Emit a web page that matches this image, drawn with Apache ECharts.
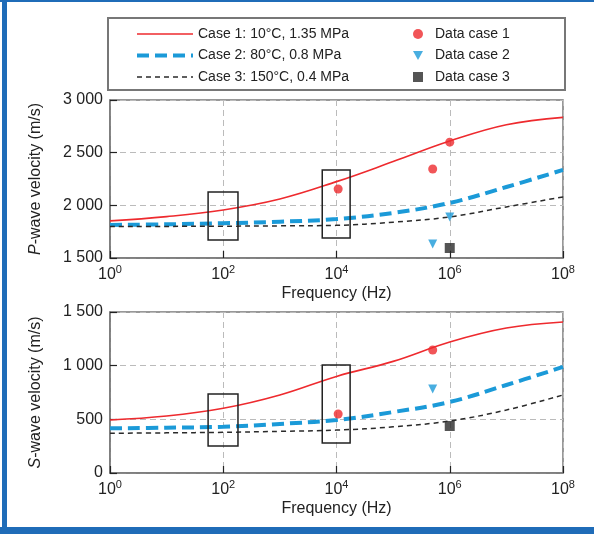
<!DOCTYPE html>
<html>
<head>
    <meta charset="utf-8" />
    <title>P- and S-wave velocity vs frequency</title>
    <style>
        html, body { margin: 0; padding: 0; background: #fff; }
        #chart { width: 594px; height: 534px; }
    </style>
</head>
<body>
    <div id="chart"></div>
    <script src="https://cdn.jsdelivr.net/npm/echarts@6/dist/echarts.min.js"></script>
    <script>
        // model curves, sampled once per decade (Hz)
        var freqHz = [1, 10, 100, 1e3, 1e4, 1e5, 1e6, 1e7, 1e8];
        var pCase1 = [1852, 1893, 1956, 2060, 2225, 2415, 2610, 2765, 2835];
        var pCase2 = [1814, 1820, 1830, 1845, 1870, 1928, 2023, 2174, 2336];
        var pCase3 = [1798, 1800, 1802, 1805, 1810, 1840, 1890, 1985, 2080];
        var sCase1 = [494, 531, 603, 727, 900, 1040, 1221, 1351, 1407];
        var sCase2 = [416, 422, 431, 457, 494, 568, 662, 820, 988];
        var sCase3 = [370, 374, 379, 388, 400, 430, 485, 587, 727];

        // measured data
        var pData1Freq = [1.07e4, 5e5, 1e6], pData1 = [2155, 2345, 2600];
        var pData2Freq = [5e5, 1e6],         pData2 = [1633, 1890];
        var pData3Freq = [1e6],              pData3 = [1595];
        var sData1Freq = [1.07e4, 5e5],      sData1 = [550, 1146];
        var sData2Freq = [5e5],              sData2 = [783];
        var sData3Freq = [1e6],              sData3 = [438];

        // rectangles: [fMin, fMax, vMin, vMax]
        var pBoxes = [[54, 182, 1671, 2127], [5600, 17400, 1690, 2336]];
        var sBoxes = [[54, 182, 252, 736], [5600, 17400, 280, 1006]];

        var caseNames = ['Case 1: 10°C, 1.35 MPa', 'Case 2: 80°C, 0.8 MPa', 'Case 3: 150°C, 0.4 MPa'];
        var dataNames = ['Data case 1', 'Data case 2', 'Data case 3'];

        var RED = '#ee2a2e', BLUE = '#1b9ad8', BLACK = '#2a2a2a', FONT = 'Liberation Sans';

        function pairs(fs, vs) {
            return fs.map(function (f, i) { return [Math.log10(f), vs[i]]; });
        }
        function boxes(list) {
            return list.map(function (b) {
                return [{ xAxis: Math.log10(b[0]), yAxis: b[2] }, { xAxis: Math.log10(b[1]), yAxis: b[3] }];
            });
        }
        function thousands(v) {
            if (v < 1000) return String(v);
            var r = String(v % 1000);
            while (r.length < 3) r = '0' + r;
            return Math.floor(v / 1000) + ' ' + r;
        }

        function xAxisOf(g) {
            return {
                type: 'value', gridIndex: g, min: 0, max: 8, interval: 2,
                name: 'Frequency (Hz)', nameLocation: 'middle', nameGap: 28,
                nameTextStyle: { fontFamily: FONT, fontSize: 16, color: '#222' },
                axisLine: { lineStyle: { color: '#777', width: 1.5 } },
                axisTick: { inside: true, length: 7, lineStyle: { color: '#222', width: 1.2 } },
                splitLine: { show: true, lineStyle: { color: '#bbb', type: [6, 4], width: 1 } },
                axisLabel: {
                    margin: 6, color: '#222',
                    formatter: function (v) { return '{b|10}{s|' + v + '}'; },
                    rich: {
                        b: { fontFamily: FONT, fontSize: 16, color: '#222' },
                        s: { fontFamily: FONT, fontSize: 11, color: '#222', padding: [0, 0, 10, 0] }
                    }
                }
            };
        }
        function yAxisOf(g, min, max, name) {
            return {
                type: 'value', gridIndex: g, min: min, max: max, interval: 500,
                name: name, nameLocation: 'middle', nameGap: 66, nameRotate: 90,
                nameTextStyle: {
                    fontFamily: FONT, fontSize: 16, color: '#222',
                    rich: { i: { fontFamily: FONT, fontSize: 16, fontStyle: 'italic', color: '#222' } }
                },
                axisLine: { show: true, lineStyle: { color: '#777', width: 1.5 } },
                axisTick: { show: true, inside: true, length: 7, lineStyle: { color: '#222', width: 1.2 } },
                splitLine: { show: true, lineStyle: { color: '#bbb', type: [6, 4], width: 1 } },
                axisLabel: { fontFamily: FONT, fontSize: 16, color: '#222', margin: 7, formatter: thousands }
            };
        }

        function curve(name, g, data, style) {
            return {
                name: name, type: 'line', xAxisIndex: g, yAxisIndex: g,
                data: pairs(freqHz, data), smooth: 0.4, symbol: 'none',
                lineStyle: style, itemStyle: { color: style.color }, z: 2
            };
        }
        function dots(name, g, fs, vs, symbol, color, size, rot) {
            return {
                name: name, type: 'scatter', xAxisIndex: g, yAxisIndex: g,
                data: pairs(fs, vs), symbol: symbol, symbolSize: size, symbolRotate: rot || 0,
                itemStyle: { color: color }, z: 4
            };
        }

        var redStyle = { color: RED, width: 1.6, type: 'solid' };
        var blueStyle = { color: BLUE, width: 4, type: [12, 6] };
        var blackStyle = { color: BLACK, width: 1.5, type: [5, 4] };
        var boxStyle = { color: 'rgba(0,0,0,0)', borderColor: '#222', borderWidth: 1.5 };
        var lineStyles = [redStyle, blueStyle, blackStyle];

        var series = [
            curve(caseNames[0], 0, pCase1, redStyle),
            curve(caseNames[1], 0, pCase2, blueStyle),
            curve(caseNames[2], 0, pCase3, blackStyle),
            curve(caseNames[0], 1, sCase1, redStyle),
            curve(caseNames[1], 1, sCase2, blueStyle),
            curve(caseNames[2], 1, sCase3, blackStyle),
            dots(dataNames[0], 0, pData1Freq, pData1, 'circle', RED, 9),
            dots(dataNames[1], 0, pData2Freq, pData2, 'triangle', BLUE, 9, 180),
            dots(dataNames[2], 0, pData3Freq, pData3, 'rect', BLACK, 10),
            dots(dataNames[0], 1, sData1Freq, sData1, 'circle', RED, 9),
            dots(dataNames[1], 1, sData2Freq, sData2, 'triangle', BLUE, 9, 180),
            dots(dataNames[2], 1, sData3Freq, sData3, 'rect', BLACK, 10)
        ];
        series[2].markArea = { silent: true, itemStyle: boxStyle, data: boxes(pBoxes), z: 5 };
        series[5].markArea = { silent: true, itemStyle: boxStyle, data: boxes(sBoxes), z: 5 };

        var chart = echarts.init(document.getElementById('chart'));
        chart.setOption({
            backgroundColor: '#fff',
            animation: false,
            grid: [
                { left: 110, right: 31, top: 100, height: 158, show: true, borderColor: '#777', borderWidth: 1.5 },
                { left: 110, right: 31, top: 312, height: 161, show: true, borderColor: '#777', borderWidth: 1.5 }
            ],
            xAxis: [xAxisOf(0), xAxisOf(1)],
            yAxis: [
                yAxisOf(0, 1500, 3000, '{i|P}-wave velocity (m/s)'),
                yAxisOf(1, 0, 1500, '{i|S}-wave velocity (m/s)')
            ],
            legend: [
                {
                    data: caseNames.map(function (n, i) {
                        return { name: n, lineStyle: { width: lineStyles[i].width, type: lineStyles[i].type, color: lineStyles[i].color } };
                    }),
                    orient: 'vertical', left: 130, top: 22,
                    itemWidth: 56, itemHeight: 14, itemGap: 7.5, selectedMode: false,
                    itemStyle: { opacity: 0 },
                    textStyle: { fontFamily: FONT, fontSize: 14, color: '#222' }
                },
                {
                    data: [
                        { name: dataNames[0] },
                        { name: dataNames[1], icon: 'path://M0,0L10,0L5,9Z' },
                        { name: dataNames[2] }
                    ],
                    orient: 'vertical', left: 408, top: 22,
                    itemWidth: 10, itemHeight: 10, itemGap: 7.5, selectedMode: false,
                    textStyle: { fontFamily: FONT, fontSize: 14, color: '#222', padding: [0, 0, 0, 7] }
                }
            ],
            graphic: [
                { type: 'rect', shape: { x: 108, y: 18, width: 457, height: 72 }, style: { fill: 'none', stroke: '#777', lineWidth: 2 } },
                { type: 'rect', shape: { x: 0, y: 0, width: 594, height: 2 }, style: { fill: '#1f6cb8' } },
                { type: 'rect', shape: { x: 2, y: 0, width: 5, height: 534 }, style: { fill: '#1f6cb8' } },
                { type: 'rect', shape: { x: 0, y: 527, width: 594, height: 7 }, style: { fill: '#1f6cb8' } }
            ],
            series: series
        });
    </script>
</body>
</html>
